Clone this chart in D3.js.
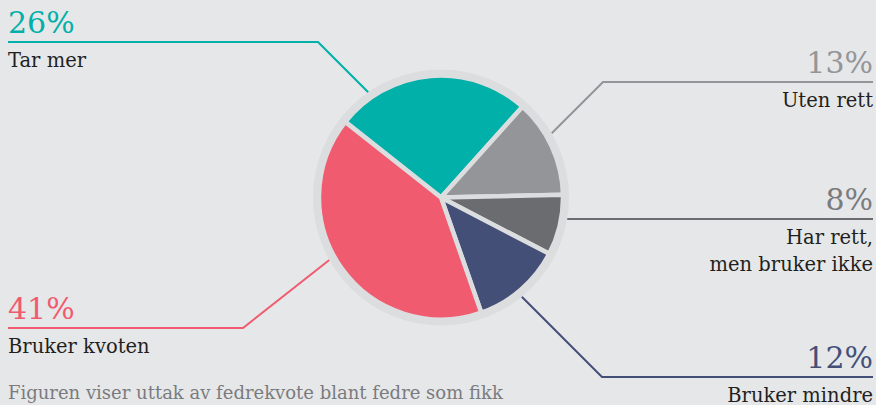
<!DOCTYPE html>
<html lang="no">
<head>
<meta charset="UTF-8">
<title>Fedrekvote</title>
<style>
    html, body { margin: 0; padding: 0; background: #e6e7e9; overflow: hidden; }
    svg { display: block; }
    .pct { font-family: "DejaVu Serif", serif; font-size: 30px; }
    .lbl { font-family: "DejaVu Serif", serif; font-size: 19.5px; fill: #231f20; }
    .note { font-family: "DejaVu Serif", serif; font-size: 18px; fill: #7a7b7e; }
</style>
</head>
<body>
<svg id="svg" width="876" height="405"></svg>
<script src="https://cdn.jsdelivr.net/npm/d3@7"></script>
<script>
    // data, clockwise from the upper left
    const categories = ["Tar mer", "Uten rett", "Har rett,|men bruker ikke", "Bruker mindre", "Bruker kvoten"];
    const values = [26, 13, 8, 12, 41];
    const colors = ["#00b0a9", "#949598", "#6b6c6f", "#434f77", "#f05b6f"];
    const pctColors = ["#00b0a9", "#949598", "#7a7b7e", "#434f77", "#f05b6f"];

    // label layout: side, y of the underline, elbow x, direction of the leader toward the pie
    const labelLayout = [
        { side: "left",  lineY: 42,  elbowX: 318, dir: [1, 1] },
        { side: "right", lineY: 82,  elbowX: 603, dir: [-1, 1] },
        { side: "right", lineY: 219, elbowX: 873, dir: [-1, 0] },
        { side: "right", lineY: 377, elbowX: 602, dir: [-1, -1] },
        { side: "left",  lineY: 328, elbowX: 243, dir: [1.27, -1] }
    ];

    const svg = d3.select("#svg");
    const cx = 441, cy = 197.5;
    const ringR = 128, pieR = 122;
    const startAngle = -51.7 * Math.PI / 180;

    const pie = d3.pie().sort(null).value(d => d)
        .startAngle(startAngle).endAngle(startAngle + 2 * Math.PI);
    const arc = d3.arc().innerRadius(0).outerRadius(pieR);

    // leader lines first, so the ring covers their ends
    const leaders = svg.append("g");
    labelLayout.forEach((l, i) => {
        const xEnd = l.side === "left" ? 8 : 873;
        // walk from the elbow along dir until meeting the ring
        const len = Math.hypot(l.dir[0], l.dir[1]);
        const ux = l.dir[0] / len, uy = l.dir[1] / len;
        const px = l.elbowX - cx, py = l.lineY - cy;
        const b = px * ux + py * uy;
        const c = px * px + py * py - ringR * ringR;
        const t = -b - Math.sqrt(Math.max(0, b * b - c));
        const hit = [l.elbowX + ux * t, l.lineY + uy * t];
        leaders.append("path")
            .attr("d", d3.line()([[xEnd, l.lineY], [l.elbowX, l.lineY], hit]))
            .attr("fill", "none")
            .attr("stroke", colors[i])
            .attr("stroke-width", 2);
    });

    const g = svg.append("g").attr("transform", `translate(${cx},${cy})`);
    g.append("circle").attr("r", ringR).attr("fill", "#dcdddf");
    g.selectAll("path.slice")
        .data(pie(values))
        .join("path")
        .attr("class", "slice")
        .attr("d", arc)
        .attr("fill", (d, i) => colors[i])
        .attr("stroke", "#dcdddf")
        .attr("stroke-width", 4.5)
        .attr("stroke-linejoin", "round");

    // texts
    labelLayout.forEach((l, i) => {
        const x = l.side === "left" ? 8 : 873;
        const anchor = l.side === "left" ? "start" : "end";
        svg.append("text")
            .attr("class", "pct")
            .attr("x", x)
            .attr("y", l.lineY - 9)
            .attr("text-anchor", anchor)
            .attr("fill", pctColors[i])
            .text(values[i] + "%");
        const lines = categories[i].split("|");
        lines.forEach((s, j) => {
            svg.append("text")
                .attr("class", "lbl")
                .attr("x", x)
                .attr("y", l.lineY + 25 + j * 27)
                .attr("text-anchor", anchor)
                .text(s);
        });
    });

    svg.append("text")
        .attr("class", "note")
        .attr("x", 8)
        .attr("y", 399)
        .text("Figuren viser uttak av fedrekvote blant fedre som fikk");
</script>
</body>
</html>
